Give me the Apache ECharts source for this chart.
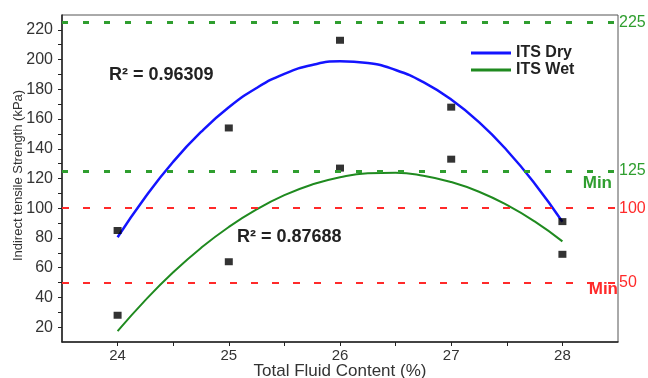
<!DOCTYPE html>
<html><head><meta charset="utf-8">
<script src="https://cdn.jsdelivr.net/npm/echarts@6/dist/echarts.min.js"></script>
<style>html,body{margin:0;padding:0;background:#fff}#c{width:648px;height:378px}</style>
</head><body><div id="c"></div>
<script>
// Measured data points
var categories = [24, 25, 26, 27, 28];
var itsDry = [85, 154, 213, 168, 91];
var itsWet = [28, 64, 127, 133, 69];
// Fitted curves
var curveX = [24, 24.25, 24.5, 24.75, 25, 25.25, 25.5, 25.75, 26, 26.25, 26.5, 26.75, 27, 27.25, 27.5, 27.75, 28];
var dryCurve = [80.5, 107.6, 131.3, 151.3, 167.9, 180.9, 190.4, 196.4, 198.8, 197.7, 193.0, 184.8, 173.1, 157.9, 139.0, 116.7, 90.9];
var wetCurve = [17.3, 38.2, 56.9, 73.3, 87.4, 99.2, 108.8, 116.0, 120.9, 123.5, 123.9, 121.9, 117.6, 111.1, 102.2, 91.1, 77.7];
var yTicks = [20, 40, 60, 80, 100, 120, 140, 160, 180, 200, 220];
var yMinorTicks = [20, 30, 40, 50, 60, 70, 80, 90, 100, 110, 120, 130, 140, 150, 160, 170, 180, 190, 200, 210, 220];
var xTicks = [24, 24.5, 25, 25.5, 26, 26.5, 27, 27.5, 28];
var greenLimits = [225, 125];
var redLimits = [100, 50];
var r2Labels = ['R\u00B2 = 0.96309', 'R\u00B2 = 0.87688'];

var FONT = 'Liberation Sans, Arial, sans-serif';
var GREEN = '#2f9e2f', RED = '#ff2a2a', BLUE = '#1414ff', WETG = '#1f8a1f';

function pairs(xs, ys){ return xs.map(function(x,i){return [x, ys[i]];}); }

var chart = echarts.init(document.getElementById('c'), null, {renderer:'canvas'});
var markData = [];
greenLimits.forEach(function(v){
  markData.push({yAxis: v, lineStyle:{color:GREEN, width:3, type:[6,15]},
    label:{show:true, formatter:String(v), position:'end', distance:1, color:GREEN, fontSize:16, fontFamily:FONT}});
});
redLimits.forEach(function(v){
  markData.push({yAxis: v, lineStyle:{color:RED, width:2, type:[7,14]},
    label:{show:true, formatter:String(v), position:'end', distance:1, color:RED, fontSize:16, fontFamily:FONT}});
});
markData.push({yAxis: greenLimits[1], lineStyle:{color:GREEN, width:3, type:[6,15]},
  label:{show:true, formatter:'Min', position:'insideEndBottom', distance:[6,4], color:GREEN, fontSize:17, fontWeight:'bold', fontFamily:FONT}});
markData.push({yAxis: redLimits[1], lineStyle:{color:RED, width:2, type:[7,14]},
  label:{show:true, formatter:'Min', position:'insideEndBottom', distance:[0,-2], color:RED, fontSize:17, fontWeight:'bold', fontFamily:FONT}});

var option = {
  animation:false,
  textStyle:{fontFamily:FONT},
  grid:{left:62, right:30, top:15, bottom:36, outerBoundsMode:'none', containLabel:false,
        show:true, borderColor:'#555', borderWidth:1, backgroundColor:'transparent'},
  legend:{
    data:['ITS Dry','ITS Wet'], orient:'vertical', left:466, top:40, itemGap:1,
    icon:'rect', itemWidth:40, itemHeight:3,
    textStyle:{fontSize:16, fontWeight:'bold', color:'#222', fontFamily:FONT}
  },
  xAxis:{
    type:'value', min:23.5, max:28.5,
    name:'Total Fluid Content (%)', nameLocation:'middle', nameGap:21, nameMoveOverlap:false,
    nameTextStyle:{fontSize:17, color:'#333', fontFamily:FONT},
    axisLine:{show:true, lineStyle:{color:'#222', width:1.5}},
    axisTick:{show:true, customValues:xTicks, length:4, lineStyle:{color:'#222'}},
    axisLabel:{customValues:categories, fontSize:15, color:'#333', margin:6, fontFamily:FONT},
    splitLine:{show:false}
  },
  yAxis:{
    type:'value', min:10, max:230,
    name:'Indirect tensile Strength (kPa)', nameLocation:'middle', nameGap:37, nameMoveOverlap:false,
    nameTextStyle:{fontSize:13, color:'#333', fontFamily:FONT, padding:[0,0,0,6]},
    axisLine:{show:true, lineStyle:{color:'#222', width:1.5}},
    axisTick:{show:true, customValues:yMinorTicks, length:4, lineStyle:{color:'#222'}},
    axisLabel:{customValues:yTicks, fontSize:16, color:'#333', margin:9, fontFamily:FONT},
    splitLine:{show:false}
  },
  series:[
    {name:'ITS Dry', type:'line', data:pairs(curveX, dryCurve), smooth:true, showSymbol:false,
     lineStyle:{color:BLUE, width:2.5}, itemStyle:{color:BLUE}, z:3,
     markLine:{silent:true, symbol:'none', data:markData}},
    {name:'ITS Wet', type:'line', data:pairs(curveX, wetCurve), smooth:true, showSymbol:false,
     lineStyle:{color:WETG, width:2}, itemStyle:{color:WETG}, z:3},
    {name:'dryPts', type:'scatter', data:pairs(categories, itsDry), symbol:'rect', symbolSize:[8,7],
     itemStyle:{color:'#000'}, z:4},
    {name:'wetPts', type:'scatter', data:pairs(categories, itsWet), symbol:'rect', symbolSize:[8,7],
     itemStyle:{color:'#000'}, z:4}
  ],
  graphic:[
    {type:'text', left:109, top:66, style:{text:r2Labels[0], fontSize:18, fontWeight:'bold', fill:'#222', fontFamily:FONT}},
    {type:'text', left:237, top:228, style:{text:r2Labels[1], fontSize:18, fontWeight:'bold', fill:'#222', fontFamily:FONT}}
  ]
};
chart.setOption(option);
</script></body></html>
